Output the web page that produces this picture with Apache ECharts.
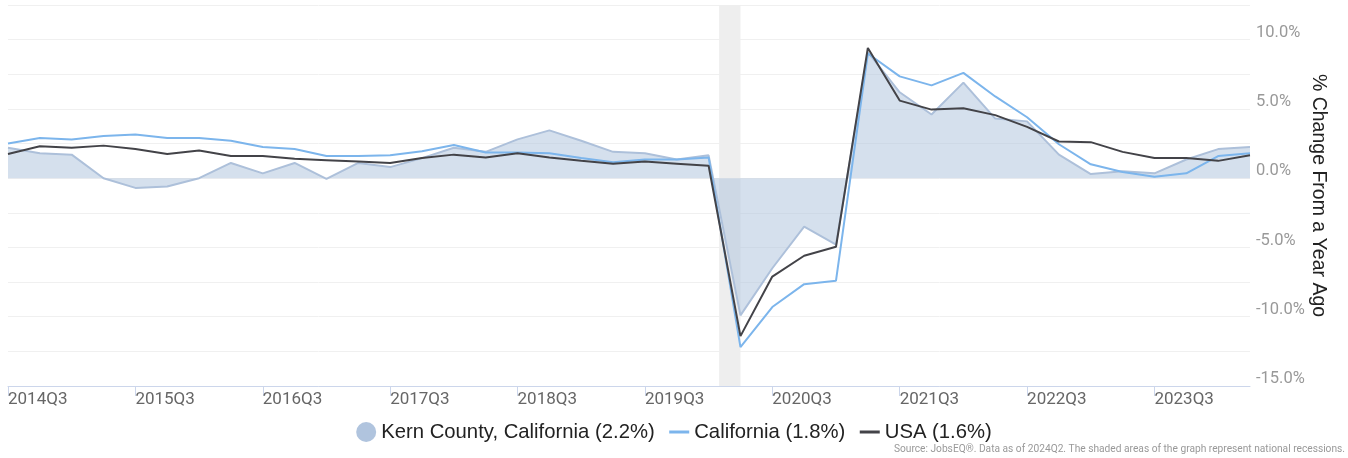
<!DOCTYPE html>
<html>
<head>
<meta charset="utf-8">
<script src="https://cdn.jsdelivr.net/npm/echarts@6/dist/echarts.min.js"></script>
<style>
  html, body { margin: 0; padding: 0; background: #fff; }
  #chart { width: 1348px; height: 458px; }
</style>
</head>
<body>
<div id="chart"></div>
<script>
// quarters 2014Q3 .. 2024Q2
var quarters = [
  '2014Q3','2014Q4','2015Q1','2015Q2','2015Q3','2015Q4','2016Q1','2016Q2',
  '2016Q3','2016Q4','2017Q1','2017Q2','2017Q3','2017Q4','2018Q1','2018Q2',
  '2018Q3','2018Q4','2019Q1','2019Q2','2019Q3','2019Q4','2020Q1','2020Q2',
  '2020Q3','2020Q4','2021Q1','2021Q2','2021Q3','2021Q4','2022Q1','2022Q2',
  '2022Q3','2022Q4','2023Q1','2023Q2','2023Q3','2023Q4','2024Q1','2024Q2'
];
// % change from a year ago
var kern = [
  2.2, 1.8, 1.7, 0.0, -0.7, -0.6, 0.0, 1.1,
  0.35, 1.1, -0.05, 1.1, 0.8, 1.45, 2.2, 1.9,
  2.8, 3.45, 2.7, 1.9, 1.8, 1.35, 1.65, -9.9,
  -6.5, -3.5, -4.8, 9.1, 6.2, 4.6, 6.9, 4.3,
  4.1, 1.7, 0.3, 0.5, 0.35, 1.35, 2.1, 2.25
];
var california = [
  2.5, 2.9, 2.8, 3.05, 3.15, 2.9, 2.9, 2.7,
  2.25, 2.1, 1.6, 1.6, 1.65, 1.95, 2.4, 1.85,
  1.85, 1.8, 1.45, 1.15, 1.35, 1.35, 1.5, -12.2,
  -9.3, -7.65, -7.4, 9.0, 7.35, 6.7, 7.6, 5.9,
  4.4, 2.45, 1.0, 0.45, 0.1, 0.35, 1.6, 1.8
];
var usa = [
  1.75, 2.3, 2.2, 2.35, 2.1, 1.75, 2.0, 1.6,
  1.6, 1.4, 1.3, 1.2, 1.1, 1.45, 1.7, 1.5,
  1.8, 1.5, 1.25, 1.05, 1.2, 1.05, 0.9, -11.4,
  -7.1, -5.6, -4.95, 9.4, 5.6, 4.95, 5.05, 4.55,
  3.7, 2.65, 2.6, 1.9, 1.45, 1.45, 1.25, 1.65
];
var seriesNames = ['Kern County, California (2.2%)', 'California (1.8%)', 'USA (1.6%)'];
var labelIdx = [0, 4, 8, 12, 16, 20, 24, 28, 32, 36];
// recession: Feb 2020 .. Apr 2020 (in quarter index units)
var recession = [22.33, 23];

function pairs(arr) {
  return arr.map(function (v, i) { return [i, v]; });
}

var chart = echarts.init(document.getElementById('chart'));
var font = 'Roboto, "Noto Sans", sans-serif';
var sans = '"Liberation Sans", Arial, sans-serif';

chart.setOption({
  animation: false,
  textStyle: { fontFamily: font },
  grid: { left: 8, right: 98, top: 5, bottom: 72 },
  legend: {
    left: 'center',
    top: 417,
    itemGap: 13,
    itemWidth: 20,
    itemHeight: 20,
    textStyle: { fontSize: 20.3, color: '#222', fontFamily: sans },
    data: [
      { name: seriesNames[0], icon: 'circle', itemStyle: { color: '#b0c4de' } },
      { name: seriesNames[1], itemStyle: { opacity: 0 }, lineStyle: { width: 3 } },
      { name: seriesNames[2], itemStyle: { opacity: 0 }, lineStyle: { width: 3 } }
    ]
  },
  graphic: [{
    type: 'text',
    right: 3,
    bottom: 4,
    style: {
      text: 'Source: JobsEQ®. Data as of 2024Q2. The shaded areas of the graph represent national recessions.',
      fontSize: 10.2,
      fill: '#999',
      fontFamily: font
    }
  }],
  xAxis: {
    type: 'value',
    min: 0,
    max: quarters.length - 1,
    splitLine: { show: false },
    axisLine: { show: true, onZero: false, lineStyle: { color: '#ccd6eb', width: 1 } },
    axisTick: { show: true, length: 10, customValues: labelIdx, lineStyle: { color: '#ccd6eb' } },
    axisLabel: {
      customValues: labelIdx,
      formatter: function (v) { return quarters[Math.round(v)]; },
      align: 'left',
      margin: 5,
      fontSize: 17,
      color: '#666'
    }
  },
  yAxis: {
    type: 'value',
    position: 'right',
    min: -15,
    max: 12.5,
    interval: 2.5,
    name: '% Change From a Year Ago',
    nameLocation: 'middle',
    nameRotate: -90,
    nameGap: 58,
    nameMoveOverlap: false,
    nameTextStyle: { fontSize: 19.5, color: '#222', fontFamily: sans },
    axisLine: { show: false },
    axisTick: { show: false },
    splitLine: { lineStyle: { color: '#f0f0f0', width: 1 } },
    axisLabel: {
      formatter: function (v) { return Math.abs(v % 5) < 1e-9 ? v.toFixed(1) + '%' : ''; },
      verticalAlign: 'bottom',
      lineHeight: 14,
      margin: 6,
      fontSize: 16.5,
      color: '#999'
    }
  },
  series: [
    {
      name: 'recession',
      type: 'line',
      data: [],
      z: 1,
      silent: true,
      markArea: {
        silent: true,
        itemStyle: { color: '#eeeeee' },
        data: [[{ xAxis: recession[0] }, { xAxis: recession[1] }]]
      }
    },
    {
      name: seriesNames[0],
      type: 'line',
      z: 2,
      data: pairs(kern),
      symbol: 'none',
      lineStyle: { color: '#adc0da', width: 2 },
      itemStyle: { color: '#b0c4de' },
      areaStyle: { color: 'rgba(172,193,220,0.72)' }
    },
    {
      name: seriesNames[1],
      type: 'line',
      z: 3,
      data: pairs(california),
      symbol: 'none',
      lineStyle: { color: '#7cb5ec', width: 2 },
      itemStyle: { color: '#7cb5ec' }
    },
    {
      name: seriesNames[2],
      type: 'line',
      z: 4,
      data: pairs(usa),
      symbol: 'none',
      lineStyle: { color: '#434348', width: 2 },
      itemStyle: { color: '#434348' }
    }
  ]
});
</script>
</body>
</html>
